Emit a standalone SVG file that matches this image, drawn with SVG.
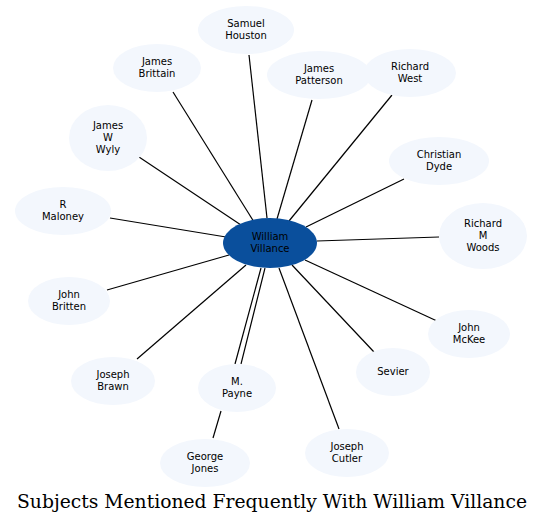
<svg xmlns="http://www.w3.org/2000/svg" width="544" height="524" viewBox="0 0 544 524">
<style>
.n ellipse{fill:#f3f7fd;stroke:none}
.n text,.c text{font-family:"DejaVu Sans",sans-serif;font-size:10px;fill:#000;text-anchor:middle}
#edges line{stroke:#000;stroke-width:1.2}
.title{font-family:"DejaVu Serif","Liberation Serif",serif;font-size:19px;text-anchor:middle;fill:#000}
</style>
<rect width="544" height="524" fill="#fff"/>
<g id="edges">
<line x1="249" y1="55" x2="267" y2="218"/>
<line x1="173" y1="92" x2="254" y2="222"/>
<line x1="312" y1="100" x2="277" y2="219"/>
<line x1="392" y1="95" x2="289" y2="221"/>
<line x1="139" y1="157" x2="241" y2="225"/>
<line x1="404" y1="179" x2="306" y2="227"/>
<line x1="110" y1="218" x2="226" y2="237"/>
<line x1="439" y1="237" x2="317" y2="241"/>
<line x1="107" y1="290" x2="229" y2="255"/>
<line x1="437" y1="321" x2="305" y2="260"/>
<line x1="137" y1="359" x2="246" y2="265"/>
<line x1="235" y1="364" x2="261" y2="268"/>
<line x1="241" y1="364" x2="265" y2="268"/>
<line x1="374" y1="352" x2="292" y2="265"/>
<line x1="339" y1="429" x2="279" y2="268"/>
<line x1="213" y1="438" x2="221" y2="411"/>
</g>
<g id="william-villance" class="c"><ellipse cx="270" cy="243" rx="47" ry="25" fill="#0a4f9c"/><text x="270" y="240">William</text><text x="270" y="252">Villance</text></g>
<g id="samuel-houston" class="n"><ellipse cx="246" cy="30" rx="48" ry="24"/><text x="246" y="27">Samuel</text><text x="246" y="39">Houston</text></g>
<g id="james-brittain" class="n"><ellipse cx="157" cy="68" rx="44" ry="24"/><text x="157" y="65">James</text><text x="157" y="77">Brittain</text></g>
<g id="james-patterson" class="n"><ellipse cx="319" cy="75" rx="52" ry="24"/><text x="319" y="72">James</text><text x="319" y="84">Patterson</text></g>
<g id="richard-west" class="n"><ellipse cx="410" cy="73" rx="46" ry="24"/><text x="410" y="70">Richard</text><text x="410" y="82">West</text></g>
<g id="james-w-wyly" class="n"><ellipse cx="108" cy="138" rx="39" ry="33"/><text x="108" y="129">James</text><text x="108" y="141">W</text><text x="108" y="153">Wyly</text></g>
<g id="christian-dyde" class="n"><ellipse cx="439" cy="161" rx="50" ry="24"/><text x="439" y="158">Christian</text><text x="439" y="170">Dyde</text></g>
<g id="r-maloney" class="n"><ellipse cx="63" cy="211" rx="48" ry="24"/><text x="63" y="208">R</text><text x="63" y="220">Maloney</text></g>
<g id="richard-m-woods" class="n"><ellipse cx="483" cy="236" rx="44" ry="33"/><text x="483" y="227">Richard</text><text x="483" y="239">M</text><text x="483" y="251">Woods</text></g>
<g id="john-britten" class="n"><ellipse cx="69" cy="301" rx="41" ry="24"/><text x="69" y="298">John</text><text x="69" y="310">Britten</text></g>
<g id="john-mckee" class="n"><ellipse cx="469" cy="334" rx="41" ry="24"/><text x="469" y="331">John</text><text x="469" y="343">McKee</text></g>
<g id="joseph-brawn" class="n"><ellipse cx="113" cy="381" rx="42" ry="24"/><text x="113" y="378">Joseph</text><text x="113" y="390">Brawn</text></g>
<g id="m-payne" class="n"><ellipse cx="237" cy="388" rx="39" ry="24"/><text x="237" y="385">M.</text><text x="237" y="397">Payne</text></g>
<g id="sevier" class="n"><ellipse cx="393" cy="372" rx="37" ry="24"/><text x="393" y="375">Sevier</text></g>
<g id="george-jones" class="n"><ellipse cx="205" cy="463" rx="45" ry="24"/><text x="205" y="460">George</text><text x="205" y="472">Jones</text></g>
<g id="joseph-cutler" class="n"><ellipse cx="347" cy="453" rx="42" ry="24"/><text x="347" y="450">Joseph</text><text x="347" y="462">Cutler</text></g>
<text class="title" x="272" y="508" textLength="510" lengthAdjust="spacingAndGlyphs">Subjects Mentioned Frequently With William Villance</text>
</svg>
